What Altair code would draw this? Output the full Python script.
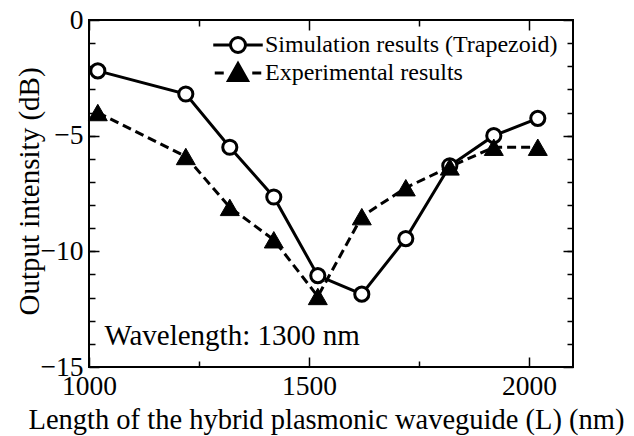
import altair as alt
import pandas as pd

# ---- data ----
length_nm = [1020, 1220, 1320, 1420, 1520, 1620, 1720, 1820, 1920, 2020]
sim_db = [-2.2, -3.2, -5.5, -7.65, -11.05, -11.85, -9.45, -6.3, -5.0, -4.25]
exp_db = [-4.0, -5.9, -8.1, -9.5, -11.95, -8.5, -7.25, -6.35, -5.5, -5.5]
series_names = ["Simulation results (Trapezoid)", "Experimental results"]

x_major = [1000, 1500, 2000]
x_minor = [1250, 1750]
y_major = [0, -5, -10, -15]
y_minor = list(range(-14, 0))

note_text = ["Wavelength: 1300 nm"]
note_x = [1035]
note_y = [-14.05]

FONT = "Liberation Serif, Times New Roman, Times, DejaVu Serif, serif"

df = pd.DataFrame({
    "L": length_nm + length_nm,
    "dB": sim_db + exp_db,
    "series": [series_names[0]] * len(length_nm) + [series_names[1]] * len(length_nm),
})
note_df = pd.DataFrame({"x": note_x, "y": note_y, "t": note_text})

xscale = alt.Scale(domain=[1000, 2100], nice=False, zero=False)
yscale = alt.Scale(domain=[-15, 0], nice=False, zero=False)

common = dict(domain=False, grid=False, tickColor="black", tickWidth=1.5,
              labelOverlap=False, labelFlush=False)


def lab_axis(orient, values, title, label_pad, title_size, **kw):
    return alt.Axis(orient=orient, values=values, tickSize=10, offset=-10,
                    labels=True, labelFont=FONT, labelFontSize=27.5, labelColor="black",
                    labelPadding=label_pad, format="d", title=title, titleFont=FONT,
                    titleFontSize=title_size, titleFontWeight="normal", titleColor="black",
                    **common, **kw)


def tick_axis(orient, values, size):
    return alt.Axis(orient=orient, values=values, tickSize=size, offset=-size,
                    labels=False, title=None, **common)


circle_path = "M-3.3,0H-1M1,0H3.3M-1,0A1,1,0,1,1,1,0A1,1,0,1,1,-1,0Z"
tri_path = "M-3.1,0H-1.9M1.9,0H3.1M-1.27,1.0L1.27,1.0L0,-1.25Z"

legend = alt.Legend(
    title=None, orient="none", legendX=137, legendY=13, padding=0,
    labelFont=FONT, labelFontSize=24, labelColor="black", labelOffset=15,
    labelLimit=500, rowPadding=-2, symbolSize=225, symbolStrokeColor="black",
    symbolStrokeWidth=3, symbolOpacity=1,
)

base = alt.Chart(df)
sim = base.transform_filter(alt.datum.series == series_names[0])
exp = base.transform_filter(alt.datum.series == series_names[1])

sim_line = sim.mark_line(color="black", strokeWidth=3).encode(
    x=alt.X("L:Q", scale=xscale,
            axis=lab_axis("bottom", x_major, "Length of the hybrid plasmonic waveguide (L) (nm)",
                          5, 28.5, titleX=237, titleY=71, titleBaseline="alphabetic")),
    y=alt.Y("dB:Q", scale=yscale,
            axis=lab_axis("left", y_major, "Output intensity (dB)", 6, 29,
                          titleX=-70, titleY=171, titleBaseline="middle")),
)

exp_line = exp.mark_line(color="black", strokeWidth=3, strokeDash=[9, 5]).encode(
    x=alt.X("L:Q", scale=xscale, axis=None),
    y=alt.Y("dB:Q", scale=yscale, axis=None),
)

sim_pts = sim.mark_point(
    shape="circle", filled=True, fill="white", stroke="black", strokeWidth=3,
    size=200, opacity=1,
).encode(
    x=alt.X("L:Q", scale=xscale, axis=tick_axis("bottom", x_minor, 6)),
    y=alt.Y("dB:Q", scale=yscale, axis=tick_axis("left", y_minor, 6)),
)

exp_pts = exp.mark_point(
    shape="triangle-up", filled=True, fill="black", stroke="black", strokeWidth=1,
    size=360, opacity=1,
).encode(
    x=alt.X("L:Q", scale=xscale, axis=tick_axis("top", x_major, 10)),
    y=alt.Y("dB:Q", scale=yscale, axis=tick_axis("right", y_major, 10)),
)

# legend-only layer (draws no marks; explicit domains feed the legend)
legend_layer = base.transform_filter("false").mark_point(
    filled=True, stroke="black", strokeWidth=3, size=225, opacity=1,
).encode(
    x=alt.X("L:Q", scale=xscale, axis=None),
    y=alt.Y("dB:Q", scale=yscale, axis=None),
    shape=alt.Shape("series:N", scale=alt.Scale(domain=series_names,
                                                range=[circle_path, tri_path]),
                    legend=legend),
    fill=alt.Fill("series:N", scale=alt.Scale(domain=series_names,
                                              range=["white", "black"]),
                  legend=legend),
    stroke=alt.Stroke("series:N", scale=alt.Scale(domain=series_names,
                                                  range=["black", "black"]),
                      legend=legend),
)

note = alt.Chart(note_df).mark_text(
    font=FONT, fontSize=29, color="black", align="left", baseline="alphabetic",
).encode(
    x=alt.X("x:Q", scale=xscale, axis=tick_axis("top", x_minor, 6)),
    y=alt.Y("y:Q", scale=yscale, axis=tick_axis("right", y_minor, 6)),
    text="t:N",
)

chart = alt.layer(sim_line, exp_line, sim_pts, exp_pts, note, legend_layer).resolve_axis(
    x="independent", y="independent"
).properties(
    width=484, height=347,
    padding={"left": 81, "top": 12, "right": 53, "bottom": 69},
    autosize=alt.AutoSizeParams(type="none"),
    background="white",
).configure_view(stroke="black", strokeWidth=2)

chart.save("out.html", embed_options={"renderer": "svg", "actions": False})
